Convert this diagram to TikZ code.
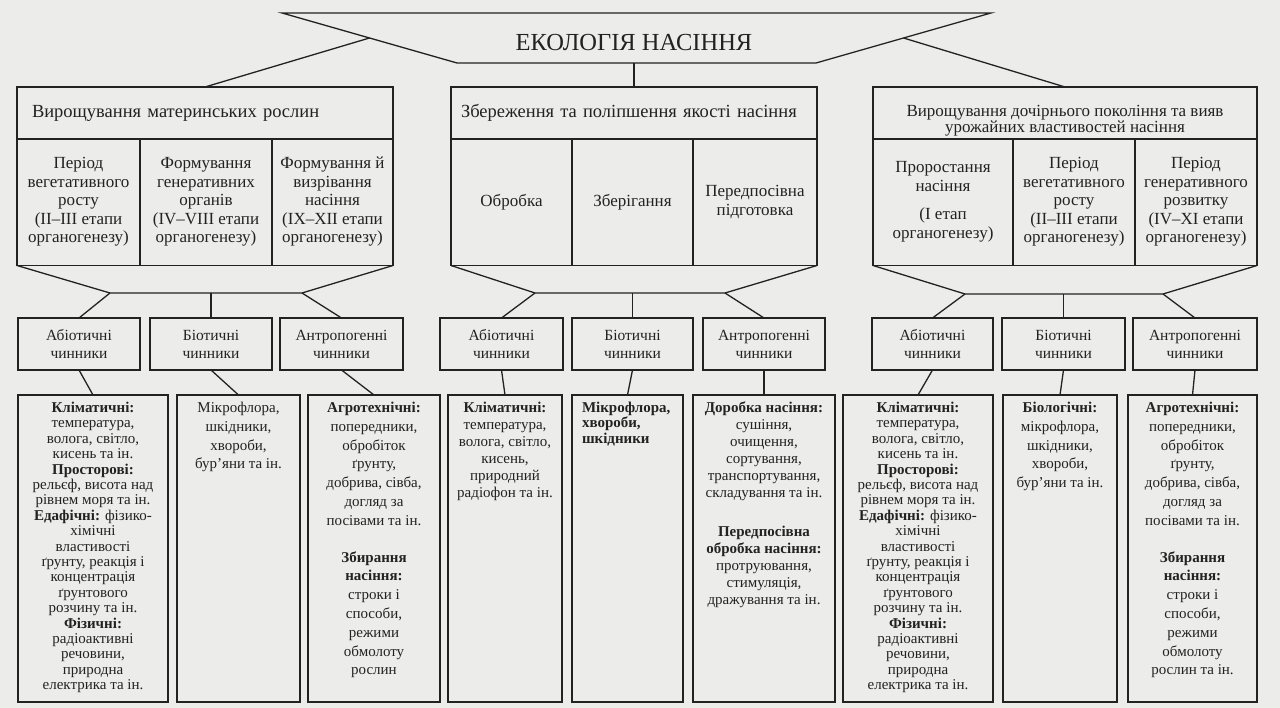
\documentclass[tikz,border=0pt]{standalone}
\usepackage{fontspec}
\setmainfont{Liberation Serif}
\usetikzlibrary{calc}
\definecolor{paper}{HTML}{ECECEA}
\definecolor{ink}{HTML}{222222}

\begin{document}
\begin{tikzpicture}[x=1pt, y=-1pt,
    every node/.style={inner sep=0pt, outer sep=0pt, text=ink},
    link/.style={draw=ink, line width=1.3pt},
    head/.style={draw=ink, line width=1.3pt, minimum height=52pt, align=center,
                 font=\fontsize{18.5}{17}\selectfont},
    cell/.style={draw=ink, line width=1.3pt, minimum height=127pt, align=center,
                 font=\fontsize{17}{18.5}\selectfont},
    factor/.style={draw=ink, line width=1.3pt, minimum height=52pt, align=center,
                   font=\fontsize{15.5}{18}\selectfont},
    detail/.style={draw=ink, line width=1.3pt, minimum height=307pt},
    note/.style={anchor=north, align=center, font=\fontsize{15}{15.4}\selectfont},
    loose/.style={font=\fontsize{15}{18.8}\selectfont}
  ]
  \fill[paper] (0,0) rectangle (1280,708);
  \useasboundingbox (0,0) rectangle (1280,708);

  \coordinate (ecoA) at (282,13);
  \coordinate (ecoB) at (991,13);
  \coordinate (ecoC) at (816,63);
  \coordinate (ecoD) at (457,63);
  \draw[link] (ecoA) -- (ecoB) -- (ecoC) -- (ecoD) -- cycle;
  \node[font=\fontsize{24.5}{26}\selectfont] (eco) at (634,43) {ЕКОЛОГІЯ НАСІННЯ};

  \node[head, minimum width=376pt, text width=346pt, align=left] (growL) at (205,113)
    {Вирощування материнських рослин};
  \node[head, minimum width=366pt, text width=346pt, align=left] (keepM) at (634,113)
    {Збереження та поліпшення якості насіння};
  \node[head, minimum width=384pt, font=\fontsize{17}{16}\selectfont] (growR) at (1065,113)
    {\rule{0pt}{26pt}Вирощування дочірнього покоління та вияв\\урожайних властивостей насіння};

  \draw[link] ($(ecoA)!0.5!(ecoD)$) -- (growL.north);
  \draw[link] (keepM.north) -- (keepM.north |- ecoD);
  \draw[link] ($(ecoB)!0.5!(ecoC)$) -- (growR.north);

  \node[cell, minimum width=123pt] (vegL) at (78.5,202)
    {Період\\вегетативного\\росту\\(II–III етапи\\органогенезу)};
  \node[cell, minimum width=132pt] (genL) at (206,202)
    {Формування\\генеративних\\органів\\(IV–VIII етапи\\органогенезу)};
  \node[cell, minimum width=121pt] (ripeL) at (332.5,202)
    {Формування й\\визрівання\\насіння\\(IX–XII етапи\\органогенезу)};

  \node[cell, minimum width=121pt] (treatM) at (511.5,202) {Обробка};
  \node[cell, minimum width=121pt] (storeM) at (632.5,202) {Зберігання};
  \node[cell, minimum width=124pt] (prepM) at (755,202) {Передпосівна\\підготовка};

  \node[cell, minimum width=140pt] (sproutR) at (943,202)
    {Проростання\\насіння\\[10pt](I етап\\органогенезу)};
  \node[cell, minimum width=122pt] (vegR) at (1074,202)
    {Період\\вегетативного\\росту\\(II–III етапи\\органогенезу)};
  \node[cell, minimum width=122pt] (genR) at (1196,202)
    {Період\\генеративного\\розвитку\\(IV–XI етапи\\органогенезу)};

  \coordinate (barL1) at (110,293);
  \coordinate (barL2) at (302,293);
  \coordinate (barM1) at (535,293);
  \coordinate (barM2) at (725,293);
  \coordinate (barR1) at (965,294);
  \coordinate (barR2) at (1163,294);
  \draw[link] (vegL.south west) -- (barL1) -- (barL2) -- (ripeL.south east);
  \draw[link] (treatM.south west) -- (barM1) -- (barM2) -- (prepM.south east);
  \draw[link] (sproutR.south west) -- (barR1) -- (barR2) -- (genR.south east);

  \node[factor, minimum width=122pt] (abioL) at (79,344) {Абіотичні\\чинники};
  \node[factor, minimum width=122pt] (bioL) at (211,344) {Біотичні\\чинники};
  \node[factor, minimum width=123pt] (antL) at (341.5,344) {Антропогенні\\чинники};
  \node[factor, minimum width=123pt] (abioM) at (501.5,344) {Абіотичні\\чинники};
  \node[factor, minimum width=121pt] (bioM) at (632.5,344) {Біотичні\\чинники};
  \node[factor, minimum width=122pt] (antM) at (764,344) {Антропогенні\\чинники};
  \node[factor, minimum width=121pt] (abioR) at (932.5,344) {Абіотичні\\чинники};
  \node[factor, minimum width=123pt] (bioR) at (1063.5,344) {Біотичні\\чинники};
  \node[factor, minimum width=124pt] (antR) at (1195,344) {Антропогенні\\чинники};

  \draw[link] (barL1) -- (abioL.north);
  \draw[link] (bioL.north) -- (bioL.north |- barL1);
  \draw[link] (barL2) -- (antL.north);
  \draw[link] (barM1) -- (abioM.north);
  \draw[link] (bioM.north) -- (bioM.north |- barM1);
  \draw[link] (barM2) -- (antM.north);
  \draw[link] (barR1) -- (abioR.north);
  \draw[link] (bioR.north) -- (bioR.north |- barR1);
  \draw[link] (barR2) -- (antR.north);

  \node[detail, minimum width=150pt] (abioLd) at (93,548.5) {};
  \node[detail, minimum width=123pt] (bioLd) at (238.5,548.5) {};
  \node[detail, minimum width=132pt] (antLd) at (374,548.5) {};
  \node[detail, minimum width=114pt] (abioMd) at (505,548.5) {};
  \node[detail, minimum width=111pt] (bioMd) at (627.5,548.5) {};
  \node[detail, minimum width=142pt] (antMd) at (764,548.5) {};
  \node[detail, minimum width=150pt] (abioRd) at (918,548.5) {};
  \node[detail, minimum width=114pt] (bioRd) at (1060,548.5) {};
  \node[detail, minimum width=129pt] (antRd) at (1192.5,548.5) {};

  \draw[link] (abioL.south) -- (abioLd.north);
  \draw[link] (bioL.south) -- (bioLd.north);
  \draw[link] (antL.south) -- (antLd.north);
  \draw[link] (abioM.south) -- (abioMd.north);
  \draw[link] (bioM.south) -- (bioMd.north);
  \draw[link] (antM.south) -- (antMd.north);
  \draw[link] (abioR.south) -- (abioRd.north);
  \draw[link] (bioR.south) -- (bioRd.north);
  \draw[link] (antR.south) -- (antRd.north);

  \node[note] (abioLn) at ($(abioLd.north)+(0,7)$)
    {\textbf{Кліматичні:}\\температура,\\волога, світло,\\кисень та ін.\\
     \textbf{Просторові:}\\рельєф, висота над\\рівнем моря та ін.\\
     \textbf{Едафічні:} фізико-\\хімічні\\властивості\\ґрунту, реакція і\\
     концентрація\\ґрунтового\\розчину та ін.\\\textbf{Фізичні:}\\
     радіоактивні\\речовини,\\природна\\електрика та ін.};
  \node[note, loose] (bioLn) at ($(bioLd.north)+(0,7)$)
    {Мікрофлора,\\шкідники,\\хвороби,\\бур'яни та ін.};
  \node[note, loose] (antLn) at ($(antLd.north)+(0,7)$)
    {\textbf{Агротехнічні:}\\попередники,\\обробіток\\ґрунту,\\добрива, сівба,\\
     догляд за\\посівами та ін.\\[18pt]\textbf{Збирання}\\\textbf{насіння:}\\
     строки і\\способи,\\режими\\обмолоту\\рослин};

  \node[note, font=\fontsize{15}{17}\selectfont] (abioMn) at ($(abioMd.north)+(0,7)$)
    {\textbf{Кліматичні:}\\температура,\\волога, світло,\\кисень,\\природний\\
     радіофон та ін.};
  \node[note, anchor=north west, align=left] (bioMn) at ($(bioMd.north west)+(10,7)$)
    {\textbf{Мікрофлора,}\\\textbf{хвороби,}\\\textbf{шкідники}};
  \node[note, font=\fontsize{15}{17}\selectfont] (antMn) at ($(antMd.north)+(0,7)$)
    {\textbf{Доробка насіння:}\\сушіння,\\очищення,\\сортування,\\
     транспортування,\\складування та ін.\\[22pt]\textbf{Передпосівна}\\
     \textbf{обробка насіння:}\\протруювання,\\стимуляція,\\дражування та ін.};

  \node[note] (abioRn) at ($(abioRd.north)+(0,7)$)
    {\textbf{Кліматичні:}\\температура,\\волога, світло,\\кисень та ін.\\
     \textbf{Просторові:}\\рельєф, висота над\\рівнем моря та ін.\\
     \textbf{Едафічні:} фізико-\\хімічні\\властивості\\ґрунту, реакція і\\
     концентрація\\ґрунтового\\розчину та ін.\\\textbf{Фізичні:}\\
     радіоактивні\\речовини,\\природна\\електрика та ін.};
  \node[note, loose] (bioRn) at ($(bioRd.north)+(0,7)$)
    {\textbf{Біологічні:}\\мікрофлора,\\шкідники,\\хвороби,\\бур'яни та ін.};
  \node[note, loose] (antRn) at ($(antRd.north)+(0,7)$)
    {\textbf{Агротехнічні:}\\попередники,\\обробіток\\ґрунту,\\добрива, сівба,\\
     догляд за\\посівами та ін.\\[18pt]\textbf{Збирання}\\\textbf{насіння:}\\
     строки і\\способи,\\режими\\обмолоту\\рослин та ін.};
\end{tikzpicture}
\end{document}
